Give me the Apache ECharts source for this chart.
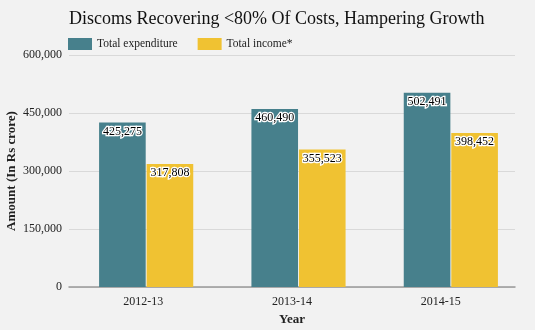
<!DOCTYPE html>
<html><head><meta charset="utf-8">
<script src="https://cdn.jsdelivr.net/npm/echarts@6/dist/echarts.min.js"></script>
<style>html,body{margin:0;padding:0;background:#f2f2f2}#c{width:535px;height:330px}</style>
</head><body><div id="c"></div>
<script>
const categories = ['2012-13', '2013-14', '2014-15'];
const expenditure = [425275, 460490, 502491];
const income = [317808, 355523, 398452];
const yTicks = { min: 0, max: 600000, interval: 150000 };
const serif = '"Liberation Serif", "DejaVu Serif", serif';
const chart = echarts.init(document.getElementById('c'));
const lbl = {
  show: true, position: 'insideTop', distance: 3, color: '#000', fontFamily: serif, fontSize: 12,
  textBorderColor: '#fff', textBorderWidth: 2.5,
  formatter: p => p.value.toLocaleString('en-US')
};
chart.setOption({
  backgroundColor: '#f2f2f2',
  animation: false,
  title: { text: 'Discoms Recovering <80% Of Costs, Hampering Growth', left: 64, top: 5,
    textStyle: { fontFamily: serif, fontWeight: 'normal', fontSize: 18, color: '#111' } },
  legend: { left: 63, top: 33, itemWidth: 24, itemHeight: 12, itemGap: 20,
    textStyle: { fontFamily: serif, fontSize: 11.5, color: '#222' }, icon: 'rect' },
  grid: [
    { left: 69, right: 20, top: 55, bottom: 43, outerBoundsMode: 'none', containLabel: false },
    { left: 70, right: 8, top: 55, bottom: 43, outerBoundsMode: 'none', containLabel: false }
  ],
  xAxis: [
    { type: 'category', data: categories, gridIndex: 0,
      name: 'Year', nameLocation: 'middle', nameGap: 26, nameMoveOverlap: false,
      nameTextStyle: { fontFamily: serif, fontWeight: 'bold', fontSize: 13, color: '#222' },
      axisLine: { lineStyle: { color: '#999', width: 1.5 } }, axisTick: { show: false },
      axisLabel: { fontFamily: serif, fontSize: 12, color: '#222', margin: 9 } },
    { type: 'category', data: categories, gridIndex: 1, show: false }
  ],
  yAxis: [
    { type: 'value', gridIndex: 0, min: yTicks.min, max: yTicks.max, interval: yTicks.interval,
      name: 'Amount (In Rs crore)', nameLocation: 'middle', nameGap: 51, nameMoveOverlap: false,
      nameTextStyle: { fontFamily: serif, fontWeight: 'bold', fontSize: 13, color: '#222' },
      axisLine: { show: false }, axisTick: { show: false },
      splitLine: { lineStyle: { color: '#d9d9d9', width: 1 } },
      axisLabel: { fontFamily: serif, fontSize: 12, color: '#222', margin: 7,
        formatter: v => v.toLocaleString('en-US') } },
    { type: 'value', gridIndex: 1, min: yTicks.min, max: yTicks.max, show: false }
  ],
  series: [
    { name: 'Total expenditure', type: 'bar', xAxisIndex: 1, yAxisIndex: 1, data: expenditure,
      barWidth: '30.6%', barGap: '2%', itemStyle: { color: '#47808c' }, label: lbl },
    { name: 'Total income*', type: 'bar', xAxisIndex: 1, yAxisIndex: 1, data: income,
      barWidth: '30.6%', itemStyle: { color: '#f0c232' }, label: lbl }
  ]
});
</script></body></html>
